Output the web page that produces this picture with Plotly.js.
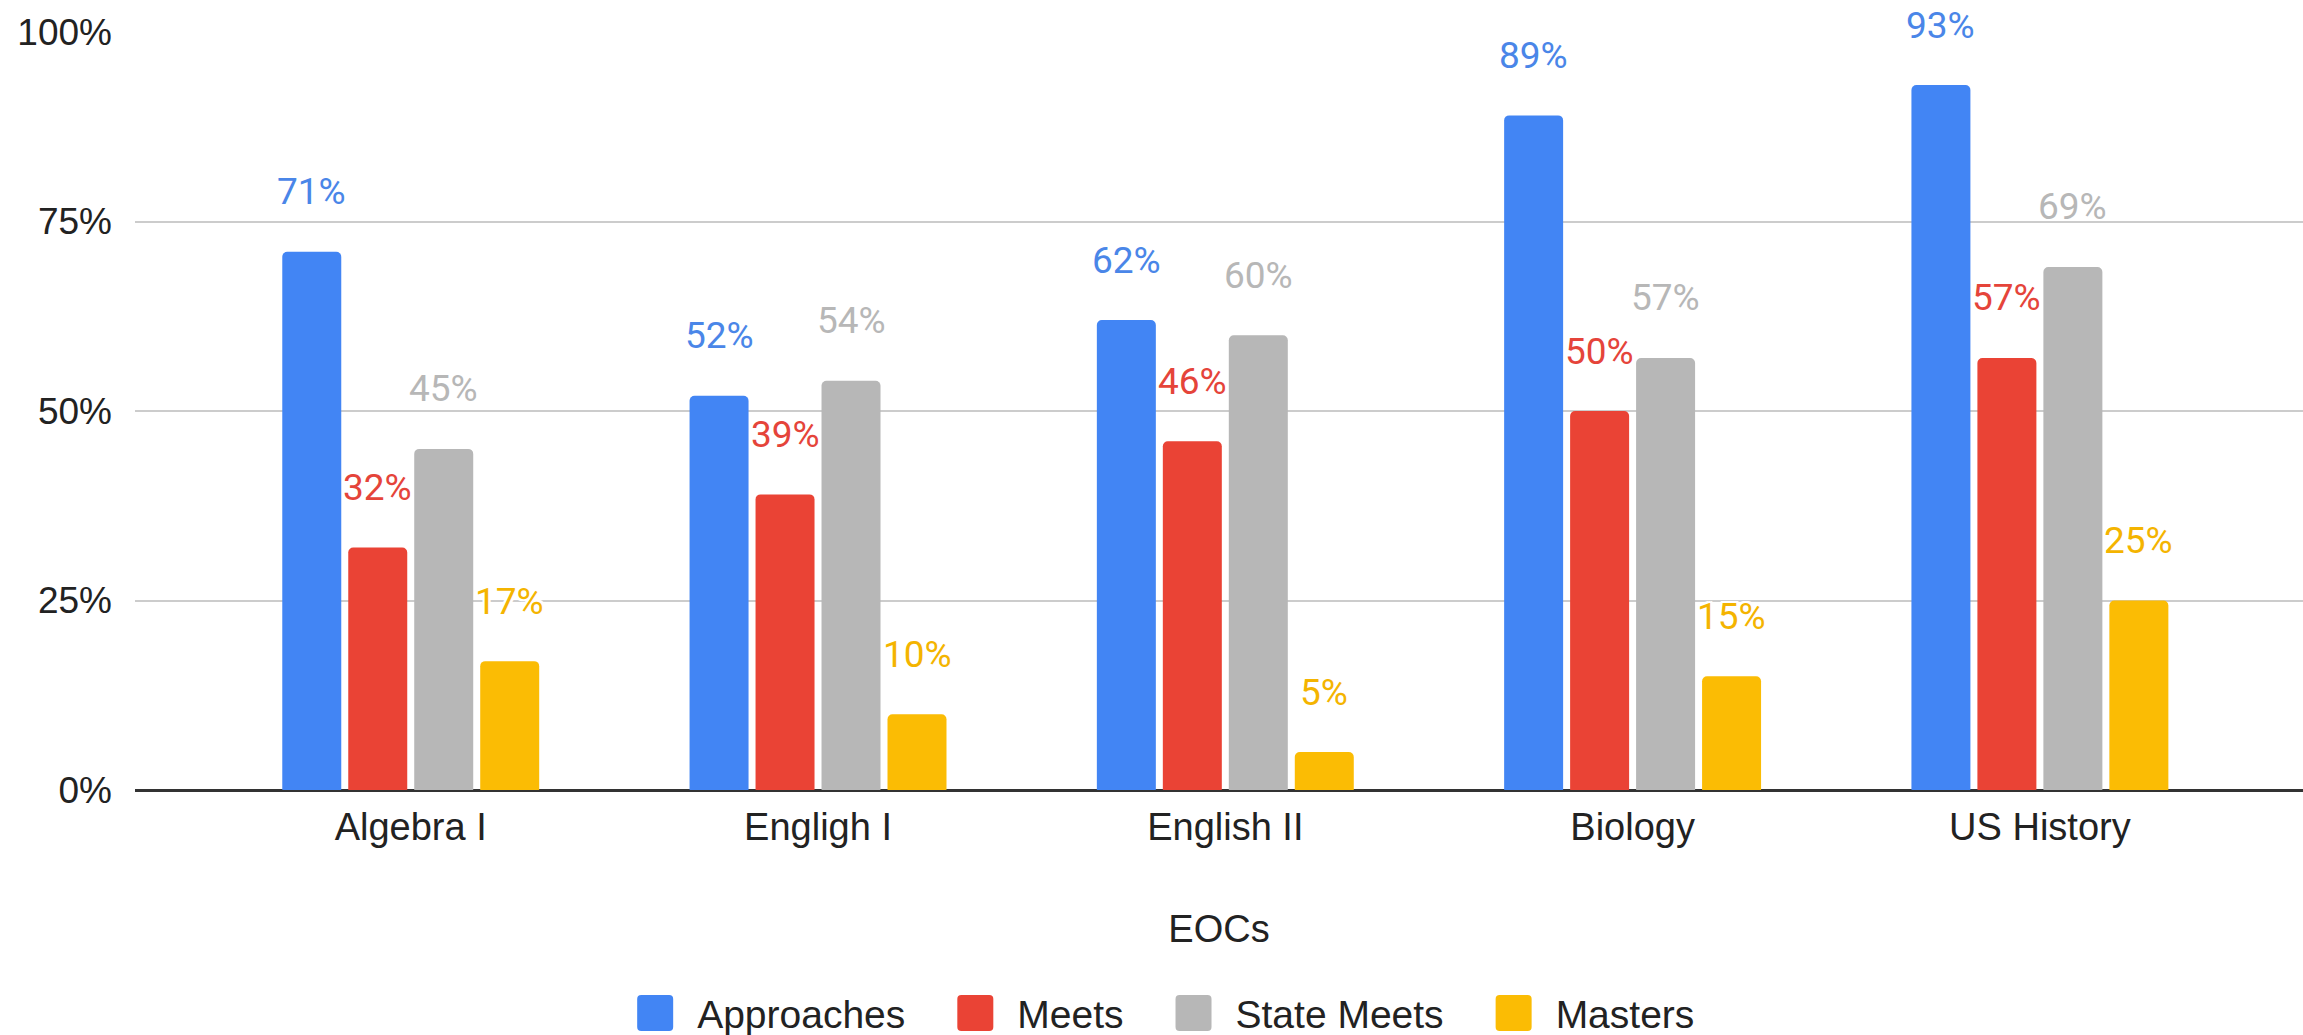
<!DOCTYPE html>
<html>
<head>
<meta charset="utf-8">
<script src="https://cdn.plot.ly/plotly-3.0.1.min.js"></script>
<style>
  html, body { margin: 0; padding: 0; background: #ffffff; }
  #chart { width: 2303px; height: 1035px; }
</style>
</head>
<body>
<div id="chart"></div>
<script>
// ---- data ----
const categories = ['Algebra I', 'Engligh I', 'English II', 'Biology', 'US History'];
const seriesNames = ['Approaches', 'Meets', 'State Meets', 'Masters'];
const approaches = [0.71, 0.52, 0.62, 0.89, 0.93];
const meets      = [0.32, 0.39, 0.46, 0.50, 0.57];
const stateMeets = [0.45, 0.54, 0.60, 0.57, 0.69];
const masters    = [0.17, 0.10, 0.05, 0.15, 0.25];
const yTickVals  = [0, 0.25, 0.5, 0.75, 1];
const xAxisTitle = 'EOCs';

// ---- style ----
const colors = ['#4285F4', '#EA4335', '#B7B7B7', '#FBBC04'];
const labelColors = ['#4A86E8', '#E5443A', '#B7B7B7', '#F4B400'];
const seriesValues = [approaches, meets, stateMeets, masters];
const BARGAP = 0.352, GROUPGAP = 0.106;
const SLOT_PX = 66;          // pixel pitch of one bar slot
const LABEL_LIFT = 60;       // data label centre above bar top (px)
const LEGEND_EXTRA = 37;     // extra spacing between legend entries (px)
const LEGEND_CENTER = 1162;  // horizontal centre of the legend (px)

const traces = seriesValues.map((vals, i) => ({
  type: 'bar',
  name: seriesNames[i],
  x: categories,
  y: vals,
  marker: { color: colors[i], cornerradius: 5 },
  hoverinfo: 'skip'
}));

const annotations = [];
seriesValues.forEach((vals, i) => {
  vals.forEach((v, j) => {
    annotations.push({
      xref: 'x', yref: 'y',
      x: categories[j], y: v,
      text: Math.round(v * 100) + '%',
      showarrow: false,
      xanchor: 'center', yanchor: 'middle',
      xshift: (i - 1.5) * SLOT_PX,
      yshift: LABEL_LIFT,
      font: {
        family: 'Roboto, Arial, sans-serif', size: 37, color: labelColors[i],
        shadow: '2px 0 0 #fff, -2px 0 0 #fff, 0 2px 0 #fff, 0 -2px 0 #fff, 2px 2px 0 #fff, -2px -2px 0 #fff, 2px -2px 0 #fff, -2px 2px 0 #fff'
      }
    });
  });
});

const layout = {
  width: 2303, height: 1035,
  margin: { l: 135, r: 0, t: 32, b: 245, pad: 0 },
  paper_bgcolor: '#ffffff', plot_bgcolor: '#ffffff',
  font: { family: 'Arial, "Liberation Sans", sans-serif', size: 37, color: '#222222' },
  barmode: 'group',
  bargap: BARGAP,
  bargroupgap: GROUPGAP,
  showlegend: true,
  legend: {
    orientation: 'h',
    xref: 'container', yref: 'container',
    x: 0.5, xanchor: 'center',
    y: 0.021, yanchor: 'middle',
    font: { size: 39, color: '#222222' },
    itemwidth: 60,
    bgcolor: 'rgba(0,0,0,0)'
  },
  xaxis: {
    type: 'category',
    range: [-0.677, 4.646],
    showgrid: false, showline: false, zeroline: false,
    ticks: '',
    tickfont: { size: 38, color: '#222222' },
    ticklabelstandoff: 11,
    title: { text: xAxisTitle, font: { size: 38, color: '#222222' }, standoff: 68 },
    automargin: false,
    fixedrange: true
  },
  yaxis: {
    range: [0, 1],
    tickvals: yTickVals,
    tickformat: '.0%',
    showgrid: true, gridcolor: '#CCCCCC', gridwidth: 2,
    zeroline: true, zerolinecolor: '#333333', zerolinewidth: 3,
    showline: false, ticks: '',
    tickfont: { size: 37, color: '#222222' },
    ticklabelstandoff: 22,
    automargin: false,
    fixedrange: true
  },
  annotations: annotations
};

function parseTranslate(t) {
  const m = /translate\(\s*([-\d.e]+)[ ,]+([-\d.e]+)\s*\)/.exec(t || '');
  return m ? [parseFloat(m[1]), parseFloat(m[2])] : [0, 0];
}

Plotly.newPlot('chart', traces, layout, { staticPlot: true, displayModeBar: false }).then(() => {
  // let legend content extend beyond its computed box
  document.querySelectorAll('#chart .legend [clip-path]').forEach(e => e.removeAttribute('clip-path'));
  // enlarge the legend swatches: 36x36 rounded squares
  document.querySelectorAll('#chart .legend .legendpoints path').forEach(p => {
    p.setAttribute('d', 'M-21,-18H7Q11,-18 11,-14V14Q11,18 7,18H-21Q-25,18 -25,14V-14Q-25,-18 -21,-18Z');
  });
  // widen spacing between legend entries
  const items = Array.from(document.querySelectorAll('#chart .legend g.traces'));
  items.forEach((g, k) => {
    const [tx, ty] = parseTranslate(g.getAttribute('transform'));
    g.setAttribute('transform', 'translate(' + (tx + k * LEGEND_EXTRA) + ',' + ty + ')');
  });
  // re-centre legend content
  let minX = Infinity, maxX = -Infinity;
  items.forEach(g => {
    const r = g.getBoundingClientRect();
    minX = Math.min(minX, r.left); maxX = Math.max(maxX, r.right);
  });
  const dx = LEGEND_CENTER - (minX + maxX) / 2;
  items.forEach(g => {
    const [tx, ty] = parseTranslate(g.getAttribute('transform'));
    g.setAttribute('transform', 'translate(' + (tx + dx) + ',' + ty + ')');
  });
});
</script>
</body>
</html>
